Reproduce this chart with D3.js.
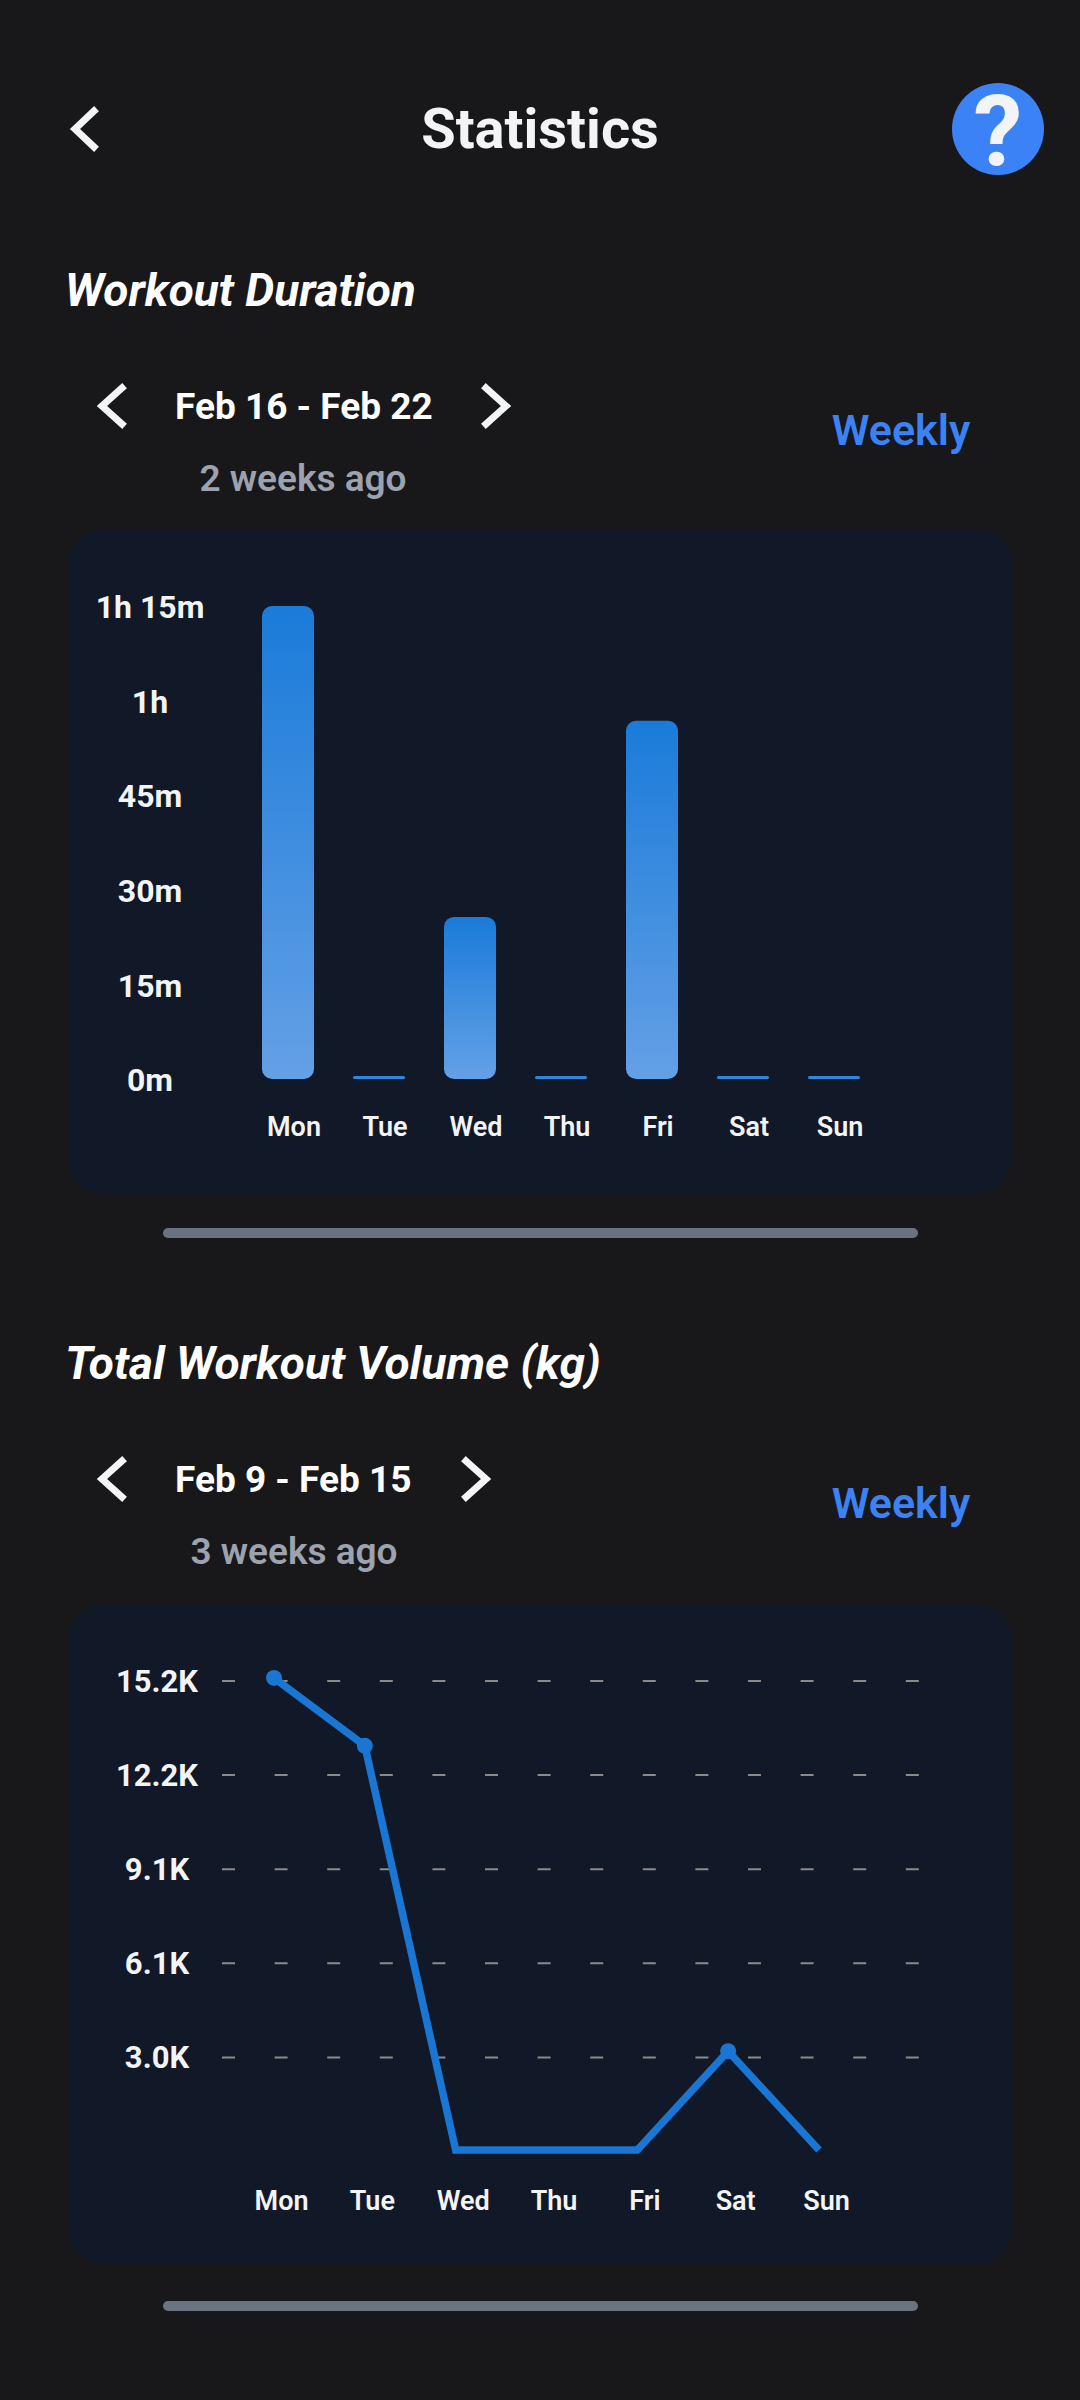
<!DOCTYPE html>
<html>
<head>
<meta charset="utf-8">
<script src="https://cdn.jsdelivr.net/npm/d3@7"></script>
<style>
    html, body { margin: 0; padding: 0; background: #18181b; }
    svg { display: block; font-family: Roboto, sans-serif; }
</style>
</head>
<body>
<svg id="screen" width="1080" height="2400"></svg>
<script>
/* chart data
============================================= */
const DAYS = ["Mon", "Tue", "Wed", "Thu", "Fri", "Sat", "Sun"];

const DURATION_MINUTES = [75, 0, 25.7, 0, 56.8, 0, 0];
const DURATION_TICKS   = [0, 15, 30, 45, 60, 75];
const DURATION_LABELS  = ["0m", "15m", "30m", "45m", "1h", "1h 15m"];

const VOLUME_KG     = [15300, 13100, 0, 0, 0, 3200, 0];
const VOLUME_TICKS  = [3000, 6050, 9100, 12150, 15200];
const VOLUME_LABELS = ["3.0K", "6.1K", "9.1K", "12.2K", "15.2K"];

var svg = d3.select("#screen");

svg.append("rect").attr("width", 1080).attr("height", 2400).attr("fill", "#18181b");

var grad = svg.append("defs").append("linearGradient")
    .attr("id", "barFill")
    .attr("x1", 0).attr("y1", 0).attr("x2", 0).attr("y2", 1);
grad.append("stop").attr("offset", "0%").attr("stop-color", "#1a7bd9");
grad.append("stop").attr("offset", "100%").attr("stop-color", "#64a0e6");

//****************** init *****************************//
renderHeader();
renderSection(0, "Workout Duration", "Feb 16 - Feb 22", "2 weeks ago", 510, 303);
renderSection(1073, "Total Workout Volume (kg)", "Feb 9 - Feb 15", "3 weeks ago", 490, 294);
renderCard(529, 664);
renderCard(1604, 660);
renderScrollbar(1228);
renderScrollbar(2301);
plotDuration();
plotVolume();

/* Functions
============================================= */

function addText(x, y, str, size, weight, color, anchor, style) {
    return svg.append("text")
        .attr("x", x).attr("y", y)
        .attr("font-size", size)
        .attr("font-weight", weight)
        .attr("font-style", style || "normal")
        .attr("fill", color)
        .attr("text-anchor", anchor || "start")
        .text(str);
}

function chevron(x0, x1, yc, half, width) {
    svg.append("path")
        .attr("d", `M${x1} ${yc - half} L${x0} ${yc} L${x1} ${yc + half}`)
        .attr("fill", "none")
        .attr("stroke", "#f3f4f6")
        .attr("stroke-width", width)
        .attr("stroke-linecap", "square");
}

function renderHeader() {
    chevron(75, 94, 129, 18, 7);
    addText(540, 148, "Statistics", 56, 700, "#f3f4f6", "middle");
    svg.append("circle").attr("cx", 998).attr("cy", 129).attr("r", 46).attr("fill", "#3b82f6");
    addText(998, 165, "?", 98, 700, "#f3f4f6", "middle");
}

function renderSection(dy, title, range, ago, rightX, agoX) {
    addText(65, 306 + dy, title, 46, 700, "#ffffff", "start", "italic");
    chevron(102, 122, 406 + dy, 18, 7);
    chevron(rightX - 4, rightX - 24, 406 + dy, 18, 7);
    addText(175, 419 + dy, range, 37, 700, "#ffffff");
    addText(agoX, 491 + dy, ago, 37, 600, "#9ca3af", "middle");
    addText(901, 445 + dy, "Weekly", 43, 600, "#3b82f6", "middle");
}

function renderCard(y, h) {
    svg.append("rect")
        .attr("x", 68).attr("y", y)
        .attr("width", 944).attr("height", h)
        .attr("rx", 36)
        .attr("fill", "#111827");
}

function renderScrollbar(y) {
    svg.append("rect")
        .attr("x", 163).attr("y", y)
        .attr("width", 755).attr("height", 10)
        .attr("rx", 5)
        .attr("fill", "#6b7280");
}

/*
 * styles the text of an axis and drops its lines
 */
function styleAxis(g, size, weight) {
    g.select(".domain").remove();
    g.selectAll(".tick line").remove();
    g.selectAll("text")
        .attr("font-family", "Roboto, sans-serif")
        .attr("font-size", size)
        .attr("font-weight", weight)
        .attr("fill", "#f3f4f6");
}

/*
 * bar chart, workout duration
 */
function plotDuration() {
    var x = d3.scaleBand().domain(DAYS).range([262, 860]).paddingInner(0.4286);
    var y = d3.scaleLinear().domain([0, 75]).range([1079, 606]);

    var g = svg.append("g");

    g.selectAll("rect")
        .data(DURATION_MINUTES)
        .enter()
        .append("rect")
        .attr("x", (d, i) => x(DAYS[i]))
        .attr("width", x.bandwidth())
        .attr("y", (d) => Math.min(y(d), y(0) - 3))
        .attr("height", (d) => Math.max(y(0) - y(d), 3))
        .attr("rx", (d) => d > 0 ? 10 : 1.5)
        .attr("fill", (d) => d > 0 ? "url(#barFill)" : "#2f86dc");

    var yAxis = d3.axisLeft(y)
        .tickValues(DURATION_TICKS)
        .tickFormat((d, i) => DURATION_LABELS[i]);
    svg.append("g")
        .attr("transform", "translate(150,1.5)")
        .call(yAxis)
        .call(styleAxis, 32, 700)
        .selectAll("text")
        .attr("x", 0)
        .attr("text-anchor", "middle");

    var xAxis = d3.axisBottom(x).tickSize(0).tickPadding(0);
    svg.append("g")
        .attr("transform", "translate(6,1117)")
        .call(xAxis)
        .call(styleAxis, 27, 600);
}

/*
 * line chart, total volume
 */
function plotVolume() {
    var x = d3.scalePoint().domain(DAYS).range([274, 819]);
    var y = d3.scaleLinear().domain([0, 15200]).range([2150, 1681]);

    svg.append("g")
        .selectAll("line")
        .data(VOLUME_TICKS)
        .enter()
        .append("line")
        .attr("x1", 222).attr("x2", 920)
        .attr("y1", (d) => y(d)).attr("y2", (d) => y(d))
        .attr("stroke", "#8a8a8a")
        .attr("stroke-width", 2)
        .attr("stroke-dasharray", "13 39.6");

    var line = d3.line()
        .x((d, i) => x(DAYS[i]))
        .y((d) => y(d));

    svg.append("path")
        .datum(VOLUME_KG)
        .attr("d", line)
        .attr("fill", "none")
        .attr("stroke", "#1976d2")
        .attr("stroke-width", 7.5);

    svg.append("g")
        .selectAll("circle")
        .data(VOLUME_KG.map((d, i) => ({ day: DAYS[i], kg: d })).filter((d) => d.kg > 0))
        .enter()
        .append("circle")
        .attr("cx", (d) => x(d.day))
        .attr("cy", (d) => y(d.kg))
        .attr("r", 8)
        .attr("fill", "#1976d2");

    var yAxis = d3.axisLeft(y)
        .tickValues(VOLUME_TICKS)
        .tickFormat((d, i) => VOLUME_LABELS[i]);
    svg.append("g")
        .attr("transform", "translate(157,0.5)")
        .call(yAxis)
        .call(styleAxis, 31, 700)
        .selectAll("text")
        .attr("x", 0)
        .attr("text-anchor", "middle");

    var xAxis = d3.axisBottom(x).tickSize(0).tickPadding(0);
    svg.append("g")
        .attr("transform", "translate(7,2191)")
        .call(xAxis)
        .call(styleAxis, 27, 600);
}
</script>
</body>
</html>
